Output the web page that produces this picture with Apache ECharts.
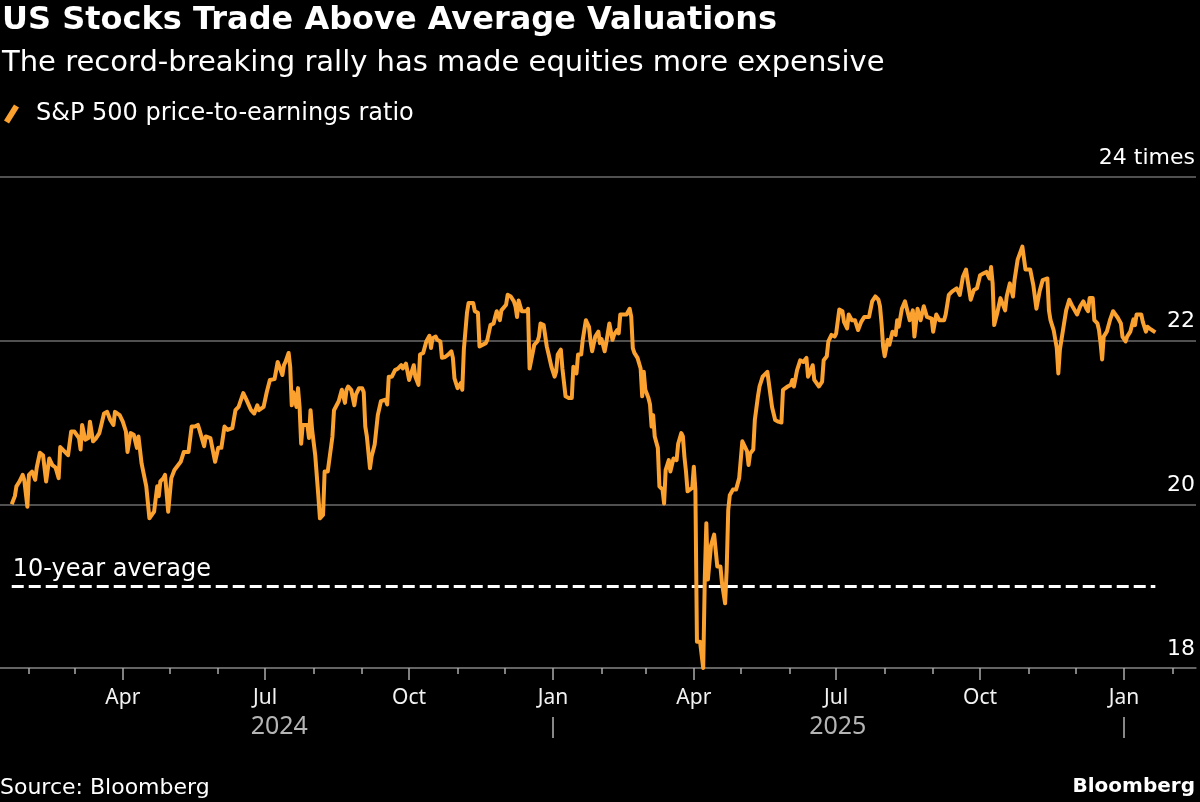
<!DOCTYPE html>
<html>
<head>
<meta charset="utf-8">
<script src="https://cdn.jsdelivr.net/npm/echarts@6/dist/echarts.min.js"></script>
<style>
html,body{margin:0;padding:0;background:#000;}
#c{width:1200px;height:802px;}
</style>
</head>
<body>
<div id="c"></div>
<script>
const titleText = 'US Stocks Trade Above Average Valuations';
const subtitleText = 'The record-breaking rally has made equities more expensive';
const seriesName = 'S&P 500 price-to-earnings ratio';
const avgLabel = '10-year average';
const avgValue = 19.0;
const sourceText = 'Source: Bloomberg';
const brandText = 'Bloomberg';
const monthNames = ['Jan','Feb','Mar','Apr','May','Jun','Jul','Aug','Sep','Oct','Nov','Dec'];
const yTicks = [18, 20, 22, 24];
const yUnit = ' times';
const yearLabels = ['2024', '2025'];
const yearLabelDates = ['2024-07-10', '2025-07-02'];
const yearBreakDates = ['2025-01-01', '2026-01-01'];
const axisStart = '2024-01-13 12:00';
const axisEnd = '2026-02-16 00:00';

const dates = [
'2024-01-21','2024-01-23','2024-01-24','2024-01-26','2024-01-28','2024-01-29','2024-01-31','2024-02-01','2024-02-03','2024-02-05',
'2024-02-06','2024-02-08','2024-02-10','2024-02-12','2024-02-14','2024-02-16','2024-02-18','2024-02-20','2024-02-21','2024-02-24',
'2024-02-26','2024-02-28','2024-03-01','2024-03-04','2024-03-05','2024-03-06','2024-03-08','2024-03-10','2024-03-11','2024-03-13',
'2024-03-15','2024-03-17','2024-03-20','2024-03-22','2024-03-24','2024-03-26','2024-03-27','2024-03-30','2024-04-01','2024-04-03',
'2024-04-04','2024-04-06','2024-04-08','2024-04-10','2024-04-11','2024-04-13','2024-04-16','2024-04-18','2024-04-21','2024-04-23',
'2024-04-24','2024-04-25','2024-04-27','2024-04-28','2024-04-30','2024-05-01','2024-05-02','2024-05-04','2024-05-08','2024-05-10',
'2024-05-13','2024-05-15','2024-05-17','2024-05-19','2024-05-20','2024-05-23','2024-05-24','2024-05-27','2024-05-30','2024-06-01',
'2024-06-03','2024-06-05','2024-06-07','2024-06-10','2024-06-12','2024-06-14','2024-06-17','2024-06-19','2024-06-22','2024-06-24',
'2024-06-26','2024-06-27','2024-06-30','2024-07-02','2024-07-04','2024-07-07','2024-07-09','2024-07-10','2024-07-12','2024-07-13',
'2024-07-14','2024-07-16','2024-07-17','2024-07-18','2024-07-19','2024-07-21','2024-07-22','2024-07-23','2024-07-24','2024-07-25',
'2024-07-28','2024-07-29','2024-07-30','2024-07-31','2024-08-02','2024-08-04','2024-08-05','2024-08-07','2024-08-08','2024-08-10',
'2024-08-11','2024-08-13','2024-08-14','2024-08-17','2024-08-19','2024-08-21','2024-08-22','2024-08-23','2024-08-25','2024-08-27',
'2024-08-28','2024-08-30','2024-09-01','2024-09-02','2024-09-03','2024-09-04','2024-09-06','2024-09-07','2024-09-09','2024-09-11',
'2024-09-13','2024-09-16','2024-09-17','2024-09-18','2024-09-20','2024-09-22','2024-09-24','2024-09-26','2024-09-27','2024-09-29',
'2024-10-01','2024-10-02','2024-10-04','2024-10-05','2024-10-07','2024-10-08','2024-10-10','2024-10-12','2024-10-14','2024-10-15',
'2024-10-16','2024-10-18','2024-10-19','2024-10-21','2024-10-22','2024-10-24','2024-10-26','2024-10-28','2024-10-29','2024-10-30',
'2024-11-01','2024-11-03','2024-11-04','2024-11-05','2024-11-07','2024-11-08','2024-11-11','2024-11-12','2024-11-14','2024-11-15',
'2024-11-16','2024-11-19','2024-11-20','2024-11-22','2024-11-24','2024-11-25','2024-11-26','2024-11-28','2024-11-29','2024-11-30',
'2024-12-02','2024-12-03','2024-12-05','2024-12-07','2024-12-08','2024-12-09','2024-12-10','2024-12-12','2024-12-13','2024-12-15',
'2024-12-16','2024-12-17','2024-12-18','2024-12-20','2024-12-22','2024-12-23','2024-12-24','2024-12-26','2024-12-28','2024-12-29',
'2024-12-31','2025-01-02','2025-01-03','2025-01-04','2025-01-06','2025-01-07','2025-01-09','2025-01-11','2025-01-13','2025-01-14',
'2025-01-16','2025-01-17','2025-01-19','2025-01-20','2025-01-22','2025-01-24','2025-01-25','2025-01-26','2025-01-28','2025-01-30',
'2025-01-31','2025-02-01','2025-02-03','2025-02-04','2025-02-06','2025-02-08','2025-02-09','2025-02-11','2025-02-12','2025-02-13',
'2025-02-17','2025-02-19','2025-02-20','2025-02-21','2025-02-22','2025-02-24','2025-02-26','2025-02-27','2025-02-28','2025-03-01',
'2025-03-03','2025-03-04','2025-03-05','2025-03-06','2025-03-07','2025-03-09','2025-03-10','2025-03-12','2025-03-13','2025-03-14',
'2025-03-15','2025-03-16','2025-03-17','2025-03-19','2025-03-21','2025-03-22','2025-03-24','2025-03-25','2025-03-26','2025-03-27',
'2025-03-28','2025-03-31','2025-04-01','2025-04-02','2025-04-03','2025-04-05','2025-04-07','2025-04-08','2025-04-09','2025-04-10',
'2025-04-12','2025-04-14','2025-04-16','2025-04-17','2025-04-18','2025-04-19','2025-04-21','2025-04-22','2025-04-23','2025-04-24',
'2025-04-26','2025-04-28','2025-04-30','2025-05-02','2025-05-03','2025-05-05','2025-05-06','2025-05-07','2025-05-09','2025-05-10',
'2025-05-12','2025-05-13','2025-05-15','2025-05-18','2025-05-19','2025-05-21','2025-05-22','2025-05-23','2025-05-25','2025-05-27',
'2025-05-28','2025-05-29','2025-05-31','2025-06-02','2025-06-03','2025-06-04','2025-06-06','2025-06-07','2025-06-08','2025-06-10',
'2025-06-12','2025-06-13','2025-06-14','2025-06-16','2025-06-17','2025-06-18','2025-06-20','2025-06-22','2025-06-23','2025-06-25',
'2025-06-26','2025-06-28','2025-06-30','2025-07-01','2025-07-03','2025-07-05','2025-07-06','2025-07-08','2025-07-09','2025-07-11',
'2025-07-13','2025-07-14','2025-07-15','2025-07-17','2025-07-19','2025-07-22','2025-07-24','2025-07-26','2025-07-28','2025-07-29',
'2025-07-30','2025-07-31','2025-08-01','2025-08-03','2025-08-04','2025-08-06','2025-08-08','2025-08-09','2025-08-10','2025-08-12',
'2025-08-14','2025-08-15','2025-08-17','2025-08-18','2025-08-19','2025-08-20','2025-08-22','2025-08-24','2025-08-25','2025-08-26',
'2025-08-28','2025-08-29','2025-08-31','2025-09-01','2025-09-03','2025-09-04','2025-09-05','2025-09-08','2025-09-09','2025-09-11',
'2025-09-13','2025-09-16','2025-09-18','2025-09-20','2025-09-22','2025-09-23','2025-09-25','2025-09-27','2025-09-29','2025-10-01',
'2025-10-03','2025-10-05','2025-10-07','2025-10-08','2025-10-09','2025-10-10','2025-10-12','2025-10-14','2025-10-15','2025-10-17',
'2025-10-18','2025-10-20','2025-10-22','2025-10-23','2025-10-25','2025-10-28','2025-10-29','2025-10-30','2025-11-02','2025-11-03',
'2025-11-04','2025-11-05','2025-11-06','2025-11-07','2025-11-08','2025-11-10','2025-11-13','2025-11-14','2025-11-15','2025-11-17',
'2025-11-19','2025-11-20','2025-11-21','2025-11-23','2025-11-25','2025-11-27','2025-11-29','2025-11-30','2025-12-02','2025-12-04',
'2025-12-06','2025-12-08','2025-12-09','2025-12-10','2025-12-12','2025-12-13','2025-12-15','2025-12-16','2025-12-17','2025-12-18',
'2025-12-19','2025-12-21','2025-12-23','2025-12-25','2025-12-26','2025-12-28','2025-12-30','2025-12-31','2026-01-02','2026-01-03',
'2026-01-05','2026-01-07','2026-01-08','2026-01-09','2026-01-12','2026-01-13','2026-01-15','2026-01-16','2026-01-18','2026-01-21'
];

const peRatio = [
20.00,20.10,20.22,20.28,20.36,20.30,19.97,20.36,20.40,20.30,
20.45,20.63,20.60,20.28,20.56,20.48,20.45,20.32,20.70,20.64,
20.60,20.89,20.89,20.81,20.67,20.97,20.79,20.81,21.01,20.77,
20.81,20.87,21.11,21.13,21.03,20.97,21.13,21.09,21.01,20.89,
20.64,20.87,20.85,20.69,20.83,20.50,20.22,19.83,19.91,20.22,
20.10,20.28,20.32,20.36,19.91,19.91,20.32,20.42,20.52,20.64,
20.64,20.95,20.95,20.97,20.91,20.71,20.83,20.81,20.52,20.69,
20.69,20.95,20.91,20.93,21.15,21.19,21.36,21.28,21.15,21.11,
21.21,21.15,21.19,21.37,21.52,21.53,21.74,21.72,21.58,21.70,
21.74,21.85,21.68,21.21,21.37,21.19,21.42,21.19,20.74,20.97,
20.97,20.81,21.15,20.91,20.60,20.10,19.83,19.87,20.40,20.40,
20.38,20.83,21.15,21.26,21.40,21.24,21.40,21.44,21.40,21.21,
21.34,21.42,21.42,21.37,20.95,20.83,20.44,20.58,20.73,21.09,
21.26,21.28,21.22,21.56,21.56,21.64,21.66,21.70,21.66,21.72,
21.52,21.54,21.70,21.56,21.46,21.83,21.85,21.99,22.06,21.91,
22.03,22.05,22.01,21.99,21.79,21.80,21.83,21.87,21.79,21.54,
21.42,21.48,21.40,21.89,22.34,22.46,22.46,22.36,22.34,21.93,
21.94,21.97,22.01,22.19,22.21,22.29,22.36,22.25,22.37,22.39,
22.44,22.56,22.54,22.48,22.42,22.29,22.49,22.36,22.34,22.36,
22.39,21.66,21.64,21.95,21.99,22.05,22.21,22.19,21.93,21.85,
21.68,21.56,21.62,21.83,21.89,21.66,21.32,21.30,21.30,21.68,
21.60,21.83,21.83,22.01,22.25,22.17,21.99,21.87,22.05,22.11,
21.97,22.02,21.87,21.97,22.21,22.01,22.07,22.13,22.09,22.32,
22.32,22.39,22.29,21.91,21.85,21.79,21.66,21.32,21.62,21.40,
21.30,21.22,20.95,21.09,20.83,20.69,20.22,20.18,20.01,20.42,
20.48,20.54,20.40,20.56,20.54,20.74,20.87,20.83,20.58,20.40,
20.16,20.20,20.46,20.18,18.32,18.32,18.00,19.08,19.77,19.08,
19.50,19.63,19.24,19.26,19.24,19.04,18.79,19.20,19.93,20.11,
20.18,20.18,20.32,20.77,20.73,20.65,20.48,20.62,20.67,21.03,
21.32,21.44,21.56,21.62,21.60,21.19,21.17,21.03,21.01,21.00,
21.40,21.42,21.44,21.46,21.52,21.44,21.64,21.62,21.76,21.74,
21.79,21.56,21.60,21.70,21.52,21.50,21.44,21.50,21.76,21.81,
21.99,22.07,22.05,22.09,22.38,22.36,22.23,22.15,22.32,22.25,
22.25,22.23,22.13,22.23,22.29,22.29,22.48,22.54,22.50,22.42,
22.21,21.93,21.81,22.01,21.95,22.11,22.07,22.25,22.17,22.39,
22.48,22.47,22.25,22.27,22.37,22.05,22.39,22.25,22.34,22.42,
22.29,22.29,22.27,22.11,22.32,22.34,22.25,22.25,22.32,22.56,
22.60,22.64,22.56,22.78,22.87,22.74,22.50,22.62,22.64,22.80,
22.82,22.84,22.76,22.90,22.70,22.19,22.34,22.52,22.54,22.37,
22.54,22.70,22.54,22.74,22.99,23.15,23.13,22.87,22.87,22.85,
22.68,22.68,22.39,22.39,22.60,22.74,22.76,22.37,22.25,22.13,
21.91,21.60,21.89,22.13,22.37,22.50,22.42,22.44,22.32,22.42,
22.48,22.39,22.36,22.52,22.52,22.25,22.21,22.13,21.97,21.77,
22.05,22.11,22.25,22.36,22.34,22.28,22.21,22.05,21.99,22.05,
22.11,22.26,22.19,22.32,22.32,22.23,22.11,22.17,22.14,22.10
];

const FONT = 'DejaVu Sans';
const AXFONT = 'Noto Sans';
const toTime = s => {
  const p = s.split(/[- :]/).map(Number);
  return new Date(p[0], p[1] - 1, p[2], p[3] || 0, p[4] || 0).getTime();
};

const xMin = toTime(axisStart), xMax = toTime(axisEnd);
const monthTicks = [];
const quarterTicks = [];
for (let y = 2024; y <= 2026; y++) {
  for (let m = 0; m < 12; m++) {
    const t = new Date(y, m, 1).getTime();
    if (t > xMin && t < xMax) {
      monthTicks.push(t);
      if (m % 3 === 0) quarterTicks.push(t);
    }
  }
}
const yearLabelTimes = yearLabelDates.map(toTime);
const yearBreakTimes = yearBreakDates.map(toTime);
const seriesData = dates.map((d, i) => [toTime(d), peRatio[i]]);
const gridColor = '#6b6b6b';
const lineColor = '#fba12f';

const baseX = {
  type: 'value', min: xMin, max: xMax, position: 'bottom', scale: true,
  splitLine: {show: false}, axisPointer: {show: false}
};

const chart = echarts.init(document.getElementById('c'), null, {renderer: 'canvas'});
chart.setOption({
  backgroundColor: '#000',
  animation: false,
  textStyle: {fontFamily: FONT},
  title: {
    text: titleText,
    subtext: subtitleText,
    left: 2, top: 5, padding: 0, itemGap: 12,
    textStyle: {color: '#fff', fontSize: 32, fontWeight: 'bold', fontFamily: FONT},
    subtextStyle: {color: '#fff', fontSize: 29, fontFamily: FONT}
  },
  legend: {
    left: 4, top: 102, padding: 0,
    itemWidth: 15, itemHeight: 19, itemGap: 10,
    icon: 'path://M10,0 L15,3 L5,19 L0,16 Z',
    textStyle: {color: '#fff', fontSize: 24, fontFamily: FONT, padding: [0, 0, 0, 12]},
    data: [{name: seriesName, itemStyle: {color: lineColor}}]
  },
  grid: {left: 0, right: 4, top: 177, bottom: 134, containLabel: false},
  xAxis: [
    Object.assign({}, baseX, {
      offset: 0,
      axisLine: {show: true, lineStyle: {color: gridColor, width: 1.5}},
      axisTick: {show: true, length: 12, lineStyle: {color: '#aaa', width: 1.5}, customValues: quarterTicks},
      axisLabel: {
        show: true, customValues: quarterTicks, color: '#f2f2f2', fontSize: 21, margin: 20, fontFamily: AXFONT,
        formatter: v => monthNames[new Date(v).getMonth()]
      }
    }),
    Object.assign({}, baseX, {
      offset: 0,
      axisLine: {show: false},
      axisTick: {show: true, length: 6, lineStyle: {color: '#aaa', width: 1.5}, customValues: monthTicks},
      axisLabel: {show: false}
    }),
    Object.assign({}, baseX, {
      offset: 45,
      axisLine: {show: false},
      axisTick: {show: false},
      axisLabel: {
        show: true, customValues: yearLabelTimes, color: '#b4b4b4', fontSize: 25, margin: 1, fontFamily: AXFONT,
        formatter: v => yearLabels[yearLabelTimes.indexOf(v)] || ''
      }
    }),
    Object.assign({}, baseX, {
      offset: 49,
      axisLine: {show: false},
      axisTick: {show: true, length: 21, lineStyle: {color: '#b4b4b4', width: 1.5}, customValues: yearBreakTimes},
      axisLabel: {show: false}
    })
  ],
  yAxis: {
    type: 'value', min: 18, max: 24, interval: 2, position: 'right',
    axisLine: {show: false}, axisTick: {show: false},
    splitLine: {show: true, lineStyle: {color: gridColor, width: 1.5}},
    axisLabel: {
      inside: true, align: 'right', verticalAlign: 'bottom', margin: 1,
      color: '#fff', fontSize: 22, fontFamily: FONT, padding: [0, 0, 8, 0],
      formatter: v => v === yTicks[yTicks.length - 1] ? v + yUnit : String(v)
    }
  },
  series: [{
    name: seriesName,
    type: 'line',
    xAxisIndex: 0,
    data: seriesData,
    showSymbol: false,
    symbol: 'none',
    lineStyle: {color: lineColor, width: 4, join: 'round'},
    itemStyle: {color: lineColor},
    z: 3,
    markLine: {
      silent: true, symbol: 'none', z: 2,
      lineStyle: {color: '#fff', width: 3, type: [12, 5]},
      label: {
        show: true, position: 'insideStartTop', formatter: avgLabel,
        color: '#fff', fontSize: 24, fontFamily: FONT, distance: [1, 4]
      },
      data: [[{coord: [seriesData[0][0], avgValue]}, {coord: [seriesData[seriesData.length - 1][0], avgValue]}]]
    }
  }],
  graphic: [
    {type: 'text', left: 0, top: 777, style: {text: sourceText, fill: '#fff', fontSize: 22, fontFamily: FONT}},
    {type: 'text', right: 5, top: 777, style: {text: brandText, fill: '#fff', fontSize: 20, fontWeight: 'bold', fontFamily: FONT}}
  ]
});
</script>
</body>
</html>
